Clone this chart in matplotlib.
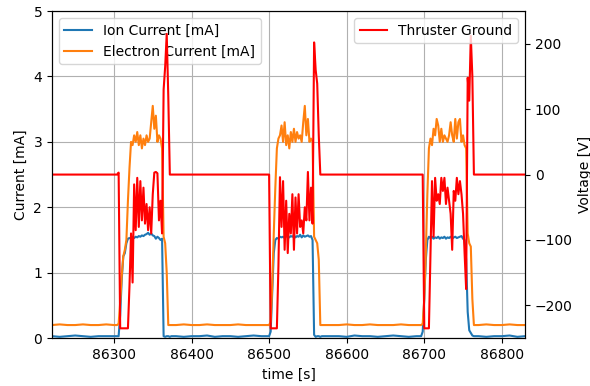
import numpy as np
import matplotlib
matplotlib.use('Agg')
import matplotlib.pyplot as plt

# ----- Data ----- #
# baseline stretches between pulses (10 s spacing)
t_base = [np.arange(86220, 86300, 10), np.arange(86380, 86496, 10),
          np.arange(86580, 86694, 10), np.arange(86770, 86840, 10)]
ion_base = [[0.03, 0.02, 0.03, 0.04, 0.03, 0.02, 0.03, 0.03],
            [0.03, 0.02, 0.03, 0.03, 0.04, 0.02, 0.03, 0.03, 0.02, 0.03, 0.04, 0.03],
            [0.03, 0.03, 0.02, 0.04, 0.03, 0.03, 0.02, 0.03, 0.04, 0.03, 0.02, 0.03],
            [0.03, 0.02, 0.03, 0.03, 0.04, 0.02, 0.03]]
ele_base = [[0.2, 0.21, 0.2, 0.2, 0.21, 0.2, 0.2, 0.21],
            [0.2, 0.21, 0.2, 0.2, 0.21, 0.2, 0.2, 0.2, 0.21, 0.2, 0.2, 0.2],
            [0.2, 0.2, 0.21, 0.2, 0.2, 0.21, 0.2, 0.2, 0.2, 0.21, 0.2, 0.2],
            [0.2, 0.21, 0.2, 0.2, 0.21, 0.2, 0.2]]
volt_base = [[0, 0, 0, 0, 0, 0, 0, 0],
             [0, 0, 0, 0, 0, 0, 0, 0, 0, 0, 0, 0],
             [0, 0, 0, 0, 0, 0, 0, 0, 0, 0, 0, 0],
             [0, 0, 0, 0, 0, 0, 0]]

# pulses (2 s spacing)
t_pulse = [np.arange(86300, 86378, 2), np.arange(86496, 86572, 2), np.arange(86694, 86770, 2)]

ion_pulse = [
    [0.03, 0.03, 0.03, 0.03, 0.35, 0.9, 1.25, 1.3, 1.45, 1.52, 1.53, 1.52, 1.55, 1.53, 1.55, 1.54,
     1.56, 1.55, 1.57, 1.56, 1.58, 1.59, 1.61, 1.58, 1.6, 1.57, 1.56, 1.52, 1.55, 1.53, 1.5, 1.52,
     0.03, 0.02, 0.03, 0.03, 0.02, 0.03, 0.03],
    [0.03, 0.03, 0.03, 0.1, 0.7, 1.3, 1.5, 1.53, 1.52, 1.55, 1.54, 1.55, 1.53, 1.56, 1.55, 1.54,
     1.56, 1.55, 1.57, 1.54, 1.56, 1.55, 1.58, 1.54, 1.57, 1.55, 1.56, 1.57, 1.55, 1.56, 1.5,
     0.05, 0.02, 0.03, 0.03, 0.02, 0.03, 0.03],
    [0.03, 0.03, 0.1, 0.6, 1.2, 1.5, 1.55, 1.53, 1.55, 1.52, 1.54, 1.53, 1.55, 1.52, 1.54, 1.53,
     1.55, 1.52, 1.54, 1.53, 1.55, 1.52, 1.54, 1.55, 1.53, 1.54, 1.55, 1.56, 1.52, 1.5, 1.2, 0.4,
     0.12, 0.08, 0.04, 0.03, 0.03, 0.03],
]
ele_pulse = [
    [0.2, 0.2, 0.2, 0.22, 0.55, 0.95, 1.25, 1.35, 1.5, 2.1, 2.6, 3.0, 2.95, 3.1, 3.0, 3.15,
     2.95, 3.1, 2.9, 3.05, 2.95, 3.1, 3.0, 3.05, 3.3, 3.55, 3.2, 3.4, 3.0, 3.1, 3.05, 2.9,
     1.55, 1.45, 1.0, 0.2, 0.2, 0.2, 0.2],
    [0.2, 0.2, 0.2, 0.25, 0.8, 1.6, 2.3, 2.9, 3.05, 3.1, 3.25, 3.0, 3.3, 2.95, 3.1, 2.9,
     3.15, 3.0, 3.2, 3.0, 3.15, 3.05, 3.1, 3.0, 3.3, 3.55, 3.1, 3.35, 3.0, 3.05, 3.0,
     1.55, 1.5, 1.45, 1.2, 0.2, 0.2, 0.2],
    [0.2, 0.2, 0.22, 0.6, 1.3, 2.2, 2.9, 3.05, 2.95, 3.2, 3.1, 3.35, 3.25, 3.0, 3.2, 3.0,
     3.1, 3.05, 3.0, 3.1, 3.3, 3.1, 3.0, 3.35, 3.05, 3.3, 3.35, 3.0, 3.1, 2.95, 2.9,
     1.6, 1.45, 1.4, 0.6, 0.2, 0.2, 0.2],
]
volt_pulse = [
    [0, 0, 0, 3, -235, -235, -235, -235, -235, -235, -170, -90, -165, -15, -85, -5,
     -80, -10, -70, -20, -75, -45, -85, -50, -90, -30, 3, 4, 2, -70, -40, -90,
     130, 165, 215, 120, 0, 0, 0],
    [0, 0, 0, -235, -235, -235, -235, -235, -140, -4, -80, -10, -115, -40, -120, -60,
     -90, -30, -115, -35, -90, -30, -80, -70, -90, -50, -70, 4, -70, -20, -75,
     202, 160, 139, 60, 0, 0, 0],
    [0, 0, 0, -235, -235, -235, -235, -120, -10, -95, -5, -40, -30, -45, -5, -25,
     -5, -45, -20, -40, -60, -115, -25, -40, -5, -30, -10, -30, -60, -120, -175,
     148, 113, 212, 150, 0, 0, 0],
]

# Stitch baseline and pulse stretches together in time order
def stitch(base, pulse):
    parts = [base[0], pulse[0], base[1], pulse[1], base[2], pulse[2], base[3]]
    return np.concatenate([np.asarray(p, dtype=float) for p in parts])

t = stitch(t_base, t_pulse)
ion = stitch(ion_base, ion_pulse)
ele = stitch(ele_base, ele_pulse)
volt = stitch(volt_base, volt_pulse)

# ----- Plot ----- #
fig = plt.figure(figsize=(5.9, 3.86), dpi=100)
ax1 = fig.add_axes([0.088, 0.124, 0.802, 0.8475])
ax1.plot(t, ion, color='#1f77b4', lw=1.5, label='Ion Current [mA]')
ax1.plot(t, ele, color='#ff7f0e', lw=1.5, label='Electron Current [mA]')
ax1.set_xlim(86220, 86830)
ax1.set_ylim(0, 5)
ax1.set_xlabel('time [s]')
ax1.set_ylabel('Current [mA]')
ax1.grid(True)
ax1.legend(loc='upper left')
ax1.ticklabel_format(axis='x', useOffset=False, style='plain')

ax2 = ax1.twinx()
ax2.plot(t, volt, 'r-', lw=1.5, label='Thruster Ground')
ax2.set_ylim(-250, 250)
ax2.set_ylabel('Voltage [V]')
ax2.legend(loc='upper right')

fig.savefig('out.png', dpi=100)
